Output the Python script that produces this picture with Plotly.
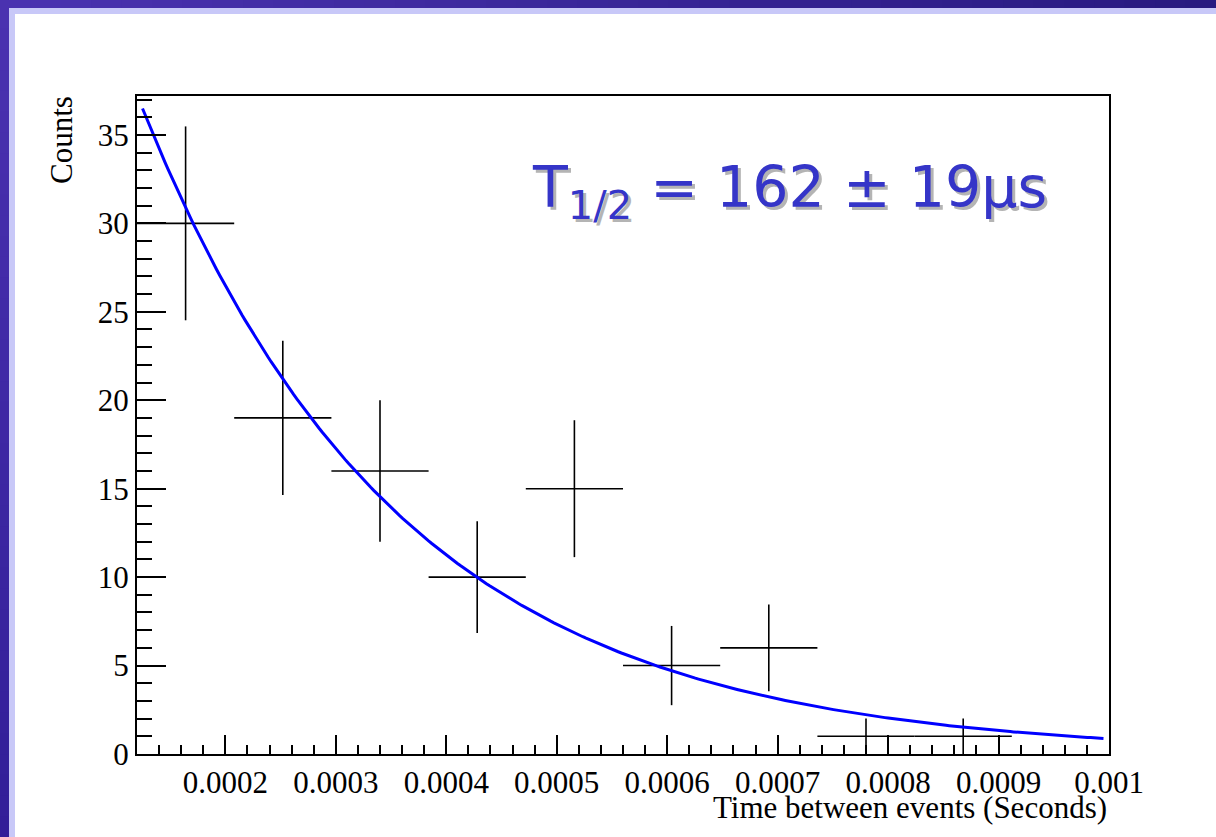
import numpy as np
import plotly.graph_objects as go

# Histogram of the time between successive events (bin centres in seconds)
bin_centers = [0.000164, 0.000252, 0.000340, 0.000428, 0.000516,
               0.000604, 0.000692, 0.000780, 0.000868]
counts = [30, 19, 16, 10, 15, 5, 6, 1, 1]
count_errors = [5.48, 4.36, 4.00, 3.16, 3.87, 2.24, 2.45, 1.00, 1.00]
bin_half_width = 0.000044

# Exponential decay fit: N(t) = A * exp(-ln2 * t / T_half)
fit_amplitude = 62.3
fit_half_life = 162e-6
fit_half_life_err = 19e-6
fit_range = (0.000125, 0.000995)

x_tick_vals = [0.0002, 0.0003, 0.0004, 0.0005, 0.0006, 0.0007, 0.0008, 0.0009, 0.001]
x_tick_text = ["0.0002", "0.0003", "0.0004", "0.0005", "0.0006",
               "0.0007", "0.0008", "0.0009", "0.001"]
y_tick_vals = [0, 5, 10, 15, 20, 25, 30, 35]
y_tick_text = ["0", "5", "10", "15", "20", "25", "30", "35"]

x_range = [0.00012, 0.001]
y_range = [0, 37.2]

# Canvas geometry (pixels)
W, H = 1216, 837
L, R, T, B = 137, 107, 96, 83
PW, PH = W - L - R, H - T - B


def px(x):
    return (x - L) / PW


def py(y):
    return (H - B - y) / PH


fig = go.Figure()

fig.add_trace(go.Scatter(
    x=bin_centers, y=counts, mode="markers",
    marker=dict(size=1, color="black"),
    error_x=dict(type="constant", value=bin_half_width, color="black",
                 thickness=1.6, width=0),
    error_y=dict(type="data", array=count_errors, color="black",
                 thickness=1.6, width=0),
    showlegend=False, hoverinfo="skip",
))

t_fit = np.linspace(fit_range[0], fit_range[1], 300)
n_fit = fit_amplitude * np.exp(-np.log(2) * t_fit / fit_half_life)
fig.add_trace(go.Scatter(
    x=t_fit, y=n_fit, mode="lines",
    line=dict(color="#0000ff", width=3),
    showlegend=False, hoverinfo="skip",
))

# Slide frame: dark gradient bands with a lavender inner border
shapes = []


def mix(c1, c2, f):
    return "rgb(%d,%d,%d)" % tuple(round(a + (b - a) * f) for a, b in zip(c1, c2))


dark_a = (74, 50, 176)
dark_b = (40, 26, 128)
dark_c = (50, 30, 152)
n_strips = 40
for i in range(n_strips):
    x0 = i * W / n_strips
    x1 = (i + 1) * W / n_strips + 1
    shapes.append(dict(type="rect", xref="paper", yref="paper",
                       x0=px(x0), x1=px(x1), y0=py(0), y1=py(8),
                       fillcolor=mix(dark_a, dark_b, i / (n_strips - 1)),
                       line=dict(width=0), layer="below"))
for i in range(n_strips):
    y0 = 8 + i * (H - 8) / n_strips
    y1 = 8 + (i + 1) * (H - 8) / n_strips + 1
    shapes.append(dict(type="rect", xref="paper", yref="paper",
                       x0=px(0), x1=px(9), y0=py(y0), y1=py(y1),
                       fillcolor=mix(dark_a, dark_c, i / (n_strips - 1)),
                       line=dict(width=0), layer="below"))
shapes.append(dict(type="rect", xref="paper", yref="paper",
                   x0=px(9), x1=px(W), y0=py(8), y1=py(14),
                   fillcolor="#c8c8f8", line=dict(width=0), layer="below"))
shapes.append(dict(type="rect", xref="paper", yref="paper",
                   x0=px(9), x1=px(15), y0=py(8), y1=py(H),
                   fillcolor="#c8c8f8", line=dict(width=0), layer="below"))

label = "T<sub>1/2</sub> = %d ± %dμs" % (round(fit_half_life * 1e6),
                                          round(fit_half_life_err * 1e6))
annotations = [
    dict(text=label, xref="paper", yref="paper", x=px(533), y=py(155),
         xanchor="left", yanchor="top", showarrow=False,
         font=dict(family="DejaVu Sans", size=57, color="#b4b4b4")),
    dict(text=label, xref="paper", yref="paper", x=px(530), y=py(152),
         xanchor="left", yanchor="top", showarrow=False,
         font=dict(family="DejaVu Sans", size=57, color="#3535c8")),
    dict(text="Counts", xref="paper", yref="paper", x=px(62), y=py(94),
         xanchor="center", yanchor="top", textangle=-90, showarrow=False,
         font=dict(family="Liberation Serif", size=31, color="black")),
    dict(text="Time between events (Seconds)", xref="paper", yref="paper",
         x=1, y=py(807), xanchor="right", yanchor="middle", showarrow=False,
         font=dict(family="Liberation Serif", size=31, color="black")),
]

fig.update_layout(
    width=W, height=H,
    margin=dict(l=L, r=R, t=T, b=B),
    paper_bgcolor="white", plot_bgcolor="white",
    shapes=shapes, annotations=annotations,
    font=dict(family="Liberation Serif", size=31, color="black"),
)

fig.update_xaxes(
    range=x_range, showgrid=False, zeroline=False,
    showline=True, linecolor="black", linewidth=2, mirror=True,
    tickmode="array", tickvals=x_tick_vals, ticktext=x_tick_text,
    ticks="inside", ticklen=19, tickwidth=1.5, tickcolor="black",
    tickfont=dict(family="Liberation Serif", size=31, color="black"),
    minor=dict(tickmode="linear", tick0=0, dtick=0.00002, ticks="inside",
               ticklen=9, tickwidth=1.5, tickcolor="black", showgrid=False),
)
fig.update_yaxes(
    range=y_range, showgrid=False, zeroline=False,
    showline=True, linecolor="black", linewidth=2, mirror=True,
    tickmode="array", tickvals=y_tick_vals, ticktext=y_tick_text,
    ticks="inside", ticklen=29, tickwidth=1.5, tickcolor="black",
    tickfont=dict(family="Liberation Serif", size=31, color="black"),
    minor=dict(tickmode="linear", tick0=0, dtick=1, ticks="inside",
               ticklen=15, tickwidth=1.5, tickcolor="black", showgrid=False),
)

fig.write_html("out.html")
